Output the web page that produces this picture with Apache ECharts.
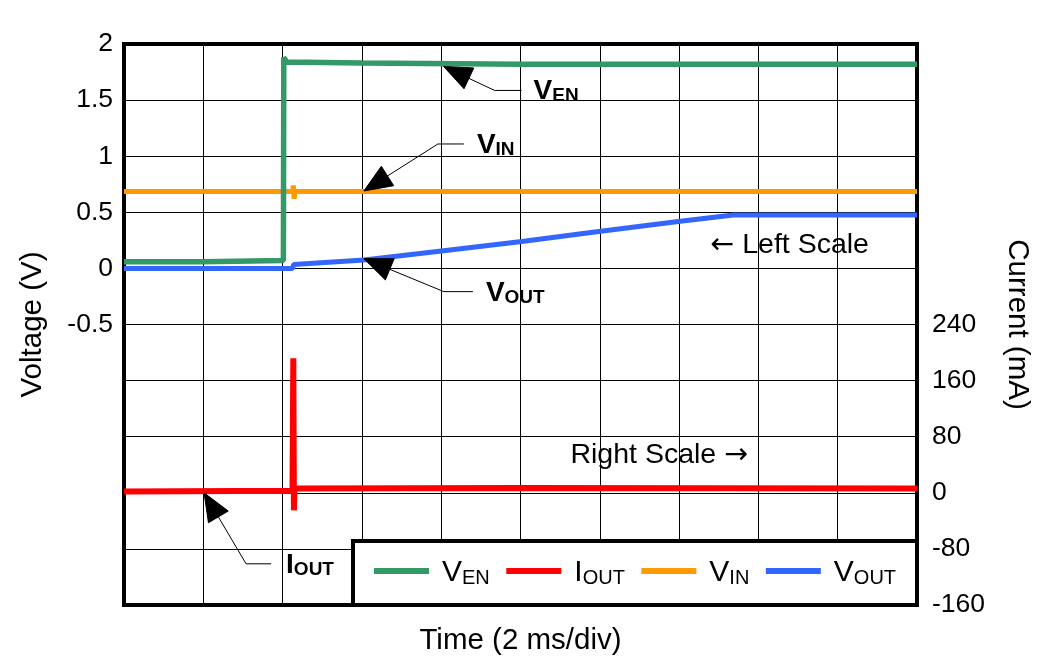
<!DOCTYPE html>
<html>
<head>
<meta charset="utf-8">
<script src="https://cdn.jsdelivr.net/npm/echarts@6/dist/echarts.min.js"></script>
<style>
  html, body { margin: 0; padding: 0; background: #fff; }
  #chart { width: 1048px; height: 668px; }
</style>
</head>
<body>
<div id="chart"></div>
<script>
// ---- Data (time in ms, 2 ms/div) ----
const venTime  = [0, 2, 4.02, 4.03, 4.1, 6, 10, 14, 20];
const venVolt  = [0.06, 0.06, 0.07, 1.88, 1.84, 1.83, 1.82, 1.82, 1.82];

const vinTime  = [0, 4.26, 4.27, 4.29, 4.31, 20];
const vinVolt  = [0.685, 0.685, 0.74, 0.62, 0.685, 0.685];

const voutTime = [0, 4.25, 4.28, 6.05, 8.06, 10.03, 12.02, 14.03, 15.37, 20];
const voutVolt = [0, 0, 0.035, 0.074, 0.158, 0.24, 0.332, 0.421, 0.476, 0.476];

const ioutTime = [0, 4.25, 4.27, 4.285, 4.30, 10, 20];
const ioutMa   = [2, 3, 192, -25, 6, 7, 6];

const leftTicks  = [-0.5, 0, 0.5, 1, 1.5, 2];
const rightTicks = [-160, -80, 0, 80, 160, 240];

const seriesNames = ['VEN', 'IOUT', 'VIN', 'VOUT'];
const seriesSub = { VEN: ['V', 'EN'], IOUT: ['I', 'OUT'], VIN: ['V', 'IN'], VOUT: ['V', 'OUT'] };

const zip = (a, b) => a.map((x, i) => [x, b[i]]);

const FONT = '"Liberation Sans", Arial, sans-serif';
const colors = { VEN: '#339966', IOUT: '#ff0000', VIN: '#ff9900', VOUT: '#3366ff' };

const chart = echarts.init(document.getElementById('chart'), null, { renderer: 'canvas' });

const option = {
  animation: false,
  backgroundColor: '#fff',
  textStyle: { fontFamily: FONT },
  grid: { left: 124, right: 131, top: 44, bottom: 63, show: true, borderColor: '#000', borderWidth: 4, backgroundColor: 'transparent' },
  xAxis: {
    type: 'value', min: 0, max: 20, interval: 2,
    name: 'Time (2 ms/div)', nameLocation: 'middle', nameGap: 21,
    nameTextStyle: { fontSize: 29.5, color: '#000', fontFamily: FONT },
    axisLine: { show: false }, axisTick: { show: false }, axisLabel: { show: false },
    splitLine: { show: true, lineStyle: { color: '#000', width: 1 } }
  },
  yAxis: [
    {
      type: 'value', min: -3, max: 2, interval: 0.5, position: 'left',
      name: 'Voltage (V)', nameLocation: 'middle', nameGap: 76,
      nameTextStyle: { fontSize: 29.5, color: '#000', fontFamily: FONT },
      axisLine: { show: false }, axisTick: { show: false },
      axisLabel: { fontSize: 26.5, color: '#000', fontFamily: FONT, margin: 11,
        formatter: v => (leftTicks.some(t => Math.abs(t - v) < 1e-9) ? String(v) : '') },
      splitLine: { show: true, lineStyle: { color: '#000', width: 1 } }
    },
    {
      type: 'value', min: -160, max: 640, interval: 80, position: 'right',
      name: 'Current (mA)', nameLocation: 'middle', nameGap: 85, nameRotate: -90,
      nameTextStyle: { fontSize: 29.5, color: '#000', fontFamily: FONT },
      axisLine: { show: false }, axisTick: { show: false },
      axisLabel: { fontSize: 26.5, color: '#000', fontFamily: FONT, margin: 15,
        formatter: v => (rightTicks.includes(v) ? String(v) : '') },
      splitLine: { show: false }
    }
  ],
  legend: {
    data: seriesNames,
    left: 369, top: 553, z: 30,
    icon: 'rect', itemWidth: 55, itemHeight: 6, itemGap: 16.5,
    formatter: n => `{m|${seriesSub[n][0]}}{s|${seriesSub[n][1]}}`,
    textStyle: {
      color: '#000', padding: [0, 0, 0, 8],
      rich: {
        m: { fontSize: 30, fontFamily: FONT, color: '#000', lineHeight: 34, verticalAlign: 'bottom' },
        s: { fontSize: 20, fontFamily: FONT, color: '#000', lineHeight: 18, verticalAlign: 'bottom' }
      }
    }
  },
  series: [
    { name: 'IOUT', type: 'line', yAxisIndex: 1, data: zip(ioutTime, ioutMa), showSymbol: false, z: 2,
      color: colors.IOUT, lineStyle: { color: colors.IOUT, width: 6 } },
    { name: 'VOUT', type: 'line', yAxisIndex: 0, data: zip(voutTime, voutVolt), showSymbol: false, z: 3,
      color: colors.VOUT, lineStyle: { color: colors.VOUT, width: 5 } },
    { name: 'VIN', type: 'line', yAxisIndex: 0, data: zip(vinTime, vinVolt), showSymbol: false, z: 4,
      color: colors.VIN, lineStyle: { color: colors.VIN, width: 5 } },
    { name: 'VEN', type: 'line', yAxisIndex: 0, data: zip(venTime, venVolt), showSymbol: false, z: 5,
      color: colors.VEN, lineStyle: { color: colors.VEN, width: 5.5 } }
  ]
};
chart.setOption(option);

// ---- Annotations (anchor in data coords, leader offsets in px) ----
const annotations = [
  { name: 'VEN',  axis: 0, tip: [8.06, 1.80],  elbow: [51, 24],  end: [78, 24],  label: [90, 24] },
  { name: 'VIN',  axis: 0, tip: [6.05, 0.69],  elbow: [74, -47], end: [100, -47], label: [113, -47] },
  { name: 'VOUT', axis: 0, tip: [6.05, 0.087], elbow: [80, 33],  end: [109, 33], label: [122, 34] },
  { name: 'IOUT', axis: 1, tip: [2.02, 0],     elbow: [42, 71],  end: [67, 71],  label: [82, 71] }
];
const scaleNotes = [
  { text: '{a|\u2190} {t|Left Scale}',  axis: 0, at: [14.79, 0.203] },
  { text: '{t|Right Scale} {a|\u2192}', axis: 1, at: [11.26, 53.5] }
];

const graphics = [];
// legend box
graphics.push({
  type: 'rect', z: 20,
  shape: { x: 353, y: 541, width: 564, height: 64 },
  style: { fill: '#fff', stroke: '#000', lineWidth: 4 }
});

annotations.forEach(a => {
  const p = chart.convertToPixel({ xAxisIndex: 0, yAxisIndex: a.axis }, a.tip);
  const e = [p[0] + a.elbow[0], p[1] + a.elbow[1]];
  const en = [p[0] + a.end[0], p[1] + a.end[1]];
  const dx = e[0] - p[0], dy = e[1] - p[1];
  const len = Math.hypot(dx, dy);
  const ux = dx / len, uy = dy / len;
  const L = 28, W = 23;
  const b = [p[0] + ux * L, p[1] + uy * L];
  const px = -uy, py = ux;
  graphics.push({
    type: 'polyline', z: 15,
    shape: { points: [b, e, en] },
    style: { stroke: '#000', lineWidth: 1, fill: null }
  });
  graphics.push({
    type: 'polygon', z: 15,
    shape: { points: [p, [b[0] + px * W / 2, b[1] + py * W / 2], [b[0] - px * W / 2, b[1] - py * W / 2]] },
    style: { fill: '#000', stroke: '#000', lineWidth: 1 }
  });
  const sub = seriesSub[a.name];
  graphics.push({
    type: 'text', z: 15,
    x: p[0] + a.label[0], y: p[1] + a.label[1],
    style: {
      text: `{m|${sub[0]}}{s|${sub[1]}}`,
      verticalAlign: 'middle', align: 'left',
      rich: {
        m: { fontSize: 28, fontWeight: 'bold', fontFamily: FONT, fill: '#000', lineHeight: 30, verticalAlign: 'bottom' },
        s: { fontSize: 19, fontWeight: 'bold', fontFamily: FONT, fill: '#000', lineHeight: 14, verticalAlign: 'bottom' }
      }
    }
  });
});

scaleNotes.forEach(s => {
  const p = chart.convertToPixel({ xAxisIndex: 0, yAxisIndex: s.axis }, s.at);
  graphics.push({
    type: 'text', z: 15, x: p[0], y: p[1],
    style: {
      text: s.text, fontSize: 28.5, fontFamily: FONT, fill: '#000', verticalAlign: 'middle', align: 'left',
      rich: {
        t: { fontSize: 28.5, fontFamily: FONT, fill: '#000' },
        a: { fontSize: 28.5, fontFamily: '"DejaVu Sans", sans-serif', fill: '#000' }
      }
    }
  });
});

chart.setOption({ graphic: graphics });
</script>
</body>
</html>
